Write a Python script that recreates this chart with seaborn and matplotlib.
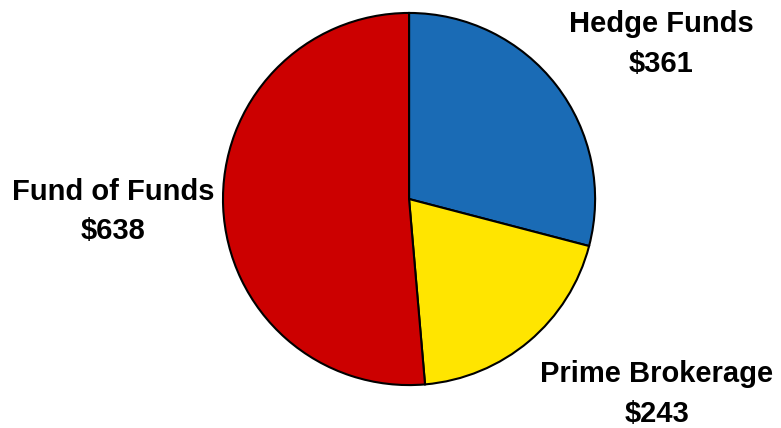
import matplotlib
matplotlib.use("Agg")
import matplotlib.pyplot as plt
import seaborn as sns

sns.set_theme(style="white")
plt.rcParams["font.family"] = ["Liberation Sans", "DejaVu Sans"]

# Assets by segment ($)
categories = ["Hedge Funds", "Prime Brokerage", "Fund of Funds"]
values = [361, 243, 638]
colors = ["#1A6BB5", "#FFE500", "#CC0000"]

fig = plt.figure(figsize=(7.81, 4.28), dpi=100)
ax = fig.add_axes([0.2843, 0.0981, 0.4789, 0.8738])

ax.pie(
    values,
    colors=colors,
    startangle=90,
    counterclock=False,
    wedgeprops=dict(edgecolor="black", linewidth=1.5),
)
ax.set_xlim(-1.005, 1.005)
ax.set_ylim(-1.005, 1.005)
ax.set_aspect("equal")
ax.axis("off")

# Label positions in figure pixels (x, y from top)
label_pos = [(661, 44), (657, 394), (113, 212)]
for name, val, (px, py) in zip(categories, values, label_pos):
    fig.text(
        px / 781, 1 - py / 428,
        f"{name}\n${val}",
        ha="center", va="center",
        fontsize=21, fontweight="bold", color="black",
        linespacing=1.5,
    )

fig.savefig("out.png", dpi=100)
